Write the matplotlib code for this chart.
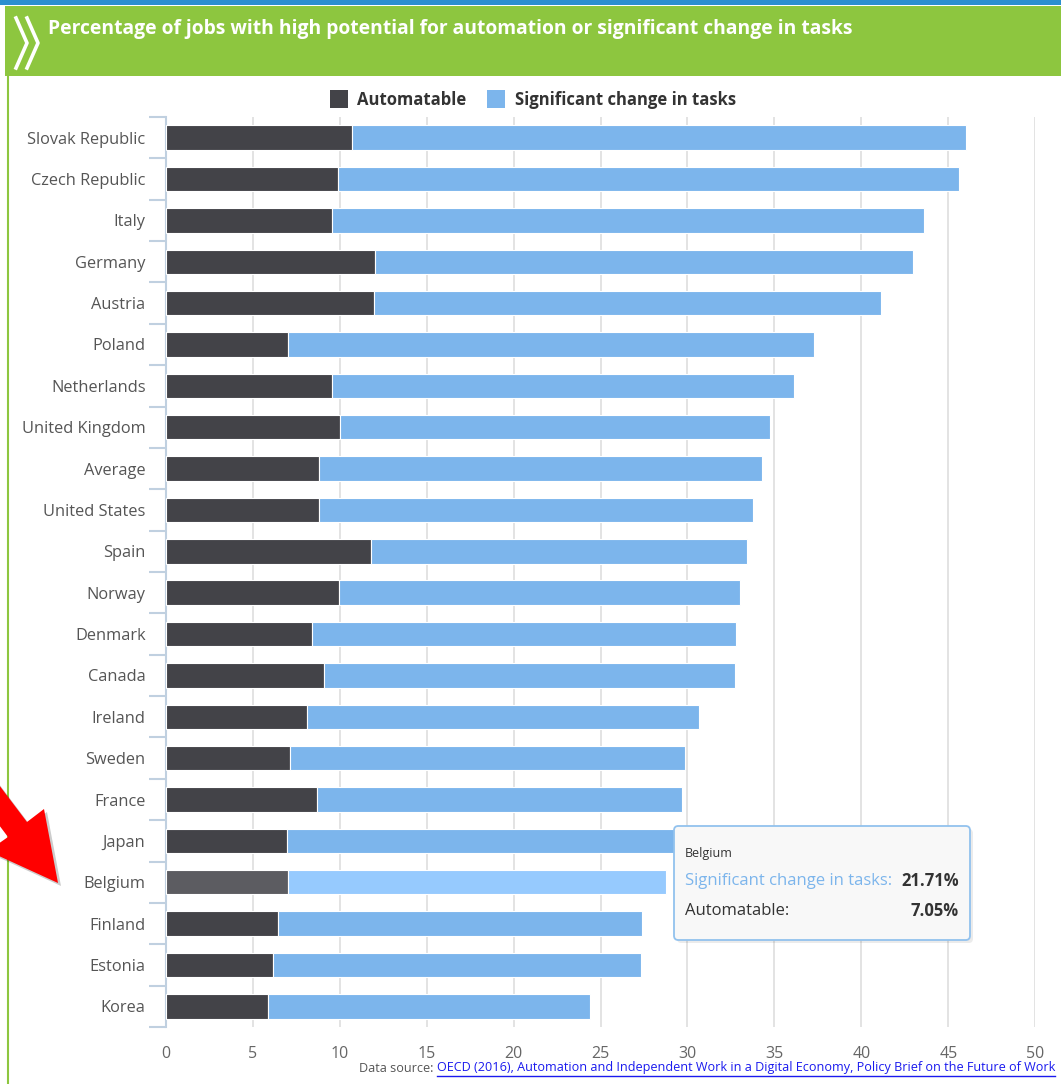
import matplotlib
matplotlib.use("Agg")
import matplotlib.pyplot as plt
from matplotlib.patches import FancyBboxPatch, Rectangle, Polygon
from matplotlib.lines import Line2D

W, H = 1061, 1084
plt.rcParams['font.family'] = ['Open Sans', 'DejaVu Sans']

countries = ["Slovak Republic", "Czech Republic", "Italy", "Germany", "Austria",
             "Poland", "Netherlands", "United Kingdom", "Average", "United States",
             "Spain", "Norway", "Denmark", "Canada", "Ireland", "Sweden", "France",
             "Japan", "Belgium", "Finland", "Estonia", "Korea"]
automatable = [10.72, 9.88, 9.57, 12.01, 12.0, 7.06, 9.57, 10.02, 8.83, 8.83,
               11.78, 9.96, 8.44, 9.13, 8.13, 7.15, 8.68, 7.0, 7.05, 6.46, 6.16, 5.86]
totals = [46.02, 45.63, 43.58, 42.98, 41.14, 37.28, 36.13, 34.77, 34.31, 33.79,
          33.41, 33.02, 32.79, 32.72, 30.66, 29.84, 29.68, 29.5, 28.76, 27.4, 27.32, 24.37]
significant = [round(t - a, 2) for t, a in zip(totals, automatable)]
significant[countries.index("Belgium")] = 21.71
xticks = [0, 5, 10, 15, 20, 25, 30, 35, 40, 45, 50]
highlight = "Belgium"

C_AUTO, C_SIG = "#434348", "#7cb5ec"
C_AUTO_H, C_SIG_H = "#5c5c61", "#96cafe"


def fx(x):
    return x / W


def fy(y):
    return 1 - y / H


fig = plt.figure(figsize=(W / 100, H / 100), dpi=100)
fig.patch.set_facecolor("white")

# header
fig.patches.append(Rectangle((0, fy(5)), 1, 5 / H, transform=fig.transFigure,
                             facecolor="#2b8fcf", edgecolor="none"))
fig.patches.append(Rectangle((fx(5), fy(76)), 1, 70 / H, transform=fig.transFigure,
                             facecolor="#8dc63f", edgecolor="none"))
fig.lines.append(Line2D([fx(8), fx(8)], [0, fy(76)], transform=fig.transFigure,
                        color="#8dc63f", lw=1.5))
for dx in (0, 11):
    fig.lines.append(Line2D([fx(16 + dx), fx(27 + dx), fx(16 + dx)],
                            [fy(18), fy(43), fy(68)], transform=fig.transFigure,
                            color="white", lw=2.6, solid_joinstyle="round"))
fig.text(fx(48), fy(29), "Percentage of jobs with high potential for automation or significant change in tasks",
         color="white", fontsize=13.9, fontweight="bold", va="center", ha="left")

# legend
fig.patches.append(Rectangle((fx(330), fy(108)), 18 / W, 18 / H, transform=fig.transFigure,
                             facecolor=C_AUTO, edgecolor="none"))
fig.text(fx(357), fy(100), "Automatable", color="#333333", fontsize=12, fontweight="bold",
         va="center", ha="left")
fig.patches.append(Rectangle((fx(487), fy(108)), 18 / W, 18 / H, transform=fig.transFigure,
                             facecolor=C_SIG, edgecolor="none"))
fig.text(fx(515), fy(100), "Significant change in tasks", color="#333333", fontsize=12,
         fontweight="bold", va="center", ha="left")

# axes
ax = fig.add_axes([fx(165.7), fy(1027), (1035.3 - 165.7) / W, (1027 - 117) / H])
ax.set_xlim(0, 50)
ax.set_ylim(len(countries) - 0.5, -0.5)
ypos = list(range(len(countries)))
auto_colors = [C_AUTO_H if c == highlight else C_AUTO for c in countries]
sig_colors = [C_SIG_H if c == highlight else C_SIG for c in countries]
ax.barh(ypos, automatable, height=0.59, color=auto_colors, edgecolor="white", linewidth=0.8, zorder=3)
ax.barh(ypos, significant, left=automatable, height=0.59, color=sig_colors,
        edgecolor="white", linewidth=0.8, zorder=3)

ax.set_xticks(xticks)
ax.set_xticklabels([str(t) for t in xticks])
ax.tick_params(axis="x", length=0, pad=14, labelsize=11.5, labelcolor="#666666")
ax.set_yticks(ypos)
ax.set_yticklabels(countries)
ax.tick_params(axis="y", length=0, pad=14.5, labelsize=11.8, labelcolor="#555555")
ax.set_yticks([i - 0.5 for i in range(len(countries) + 1)], minor=True)
ax.tick_params(axis="y", which="minor", length=12, color="#c0d0e0", width=1.5)
for xv in xticks[1:]:
    ax.axvline(xv, color="#dedede", lw=1.2, zorder=1)
for s in ("top", "right", "bottom"):
    ax.spines[s].set_visible(False)
ax.spines["left"].set_color("#c0d0e0")
ax.spines["left"].set_linewidth(1.5)

# data source
fig.canvas.draw()
r = fig.canvas.get_renderer()
link = fig.text(fx(1055), fy(1068), "OECD (2016), Automation and Independent Work in a Digital Economy, Policy Brief on the Future of Work",
                color="#1a1aee", fontsize=9.1, ha="right", va="center")
bb = link.get_window_extent(r)
fig.text(bb.x0 / W, fy(1068), "Data source: ", color="#555555", fontsize=9.1, ha="right", va="center")
fig.lines.append(Line2D([bb.x0 / W, bb.x1 / W], [fy(1076), fy(1076)], transform=fig.transFigure,
                        color="#1a1aee", lw=1))

# tooltip
shadow = FancyBboxPatch((fx(677), fy(943)), (970 - 674) / W, (940 - 826) / H,
                        boxstyle="round,pad=0,rounding_size=0.004", transform=fig.transFigure,
                        facecolor="#000000", alpha=0.08, edgecolor="none", zorder=5)
fig.patches.append(shadow)
tip = FancyBboxPatch((fx(674), fy(940)), (970 - 674) / W, (940 - 826) / H,
                     boxstyle="round,pad=0,rounding_size=0.004", transform=fig.transFigure,
                     facecolor="#f8f8f8", edgecolor="#92c2ee", lw=1.3, zorder=6)
fig.patches.append(tip)
fig.text(fx(685), fy(853), "Belgium", color="#333333", fontsize=9, va="center", zorder=7)
fig.text(fx(685), fy(881), "Significant change in tasks:", color="#7cb5ec", fontsize=12,
         va="center", zorder=7)
fig.text(fx(959), fy(881), "21.71%", color="#333333", fontsize=12, fontweight="bold",
         ha="right", va="center", zorder=7)
fig.text(fx(685), fy(911), "Automatable:", color="#333333", fontsize=12, va="center", zorder=7)
fig.text(fx(959), fy(911), "7.05%", color="#333333", fontsize=12, fontweight="bold",
         ha="right", va="center", zorder=7)

# red arrow
arrow_pts = [(58, 883), (44, 809), (27, 822), (-10, 773), (-10, 813), (8, 837), (-12, 851)]
shadow_pts = [(x + 3, y + 3) for x, y in arrow_pts]
fig.patches.append(Polygon([(fx(x), fy(y)) for x, y in shadow_pts], closed=True,
                           transform=fig.transFigure, facecolor="#000000", alpha=0.2,
                           edgecolor="none", zorder=8))
fig.patches.append(Polygon([(fx(x), fy(y)) for x, y in arrow_pts], closed=True,
                           transform=fig.transFigure, facecolor="#ff0000",
                           edgecolor="none", zorder=9))

fig.savefig("out.png", dpi=100)
